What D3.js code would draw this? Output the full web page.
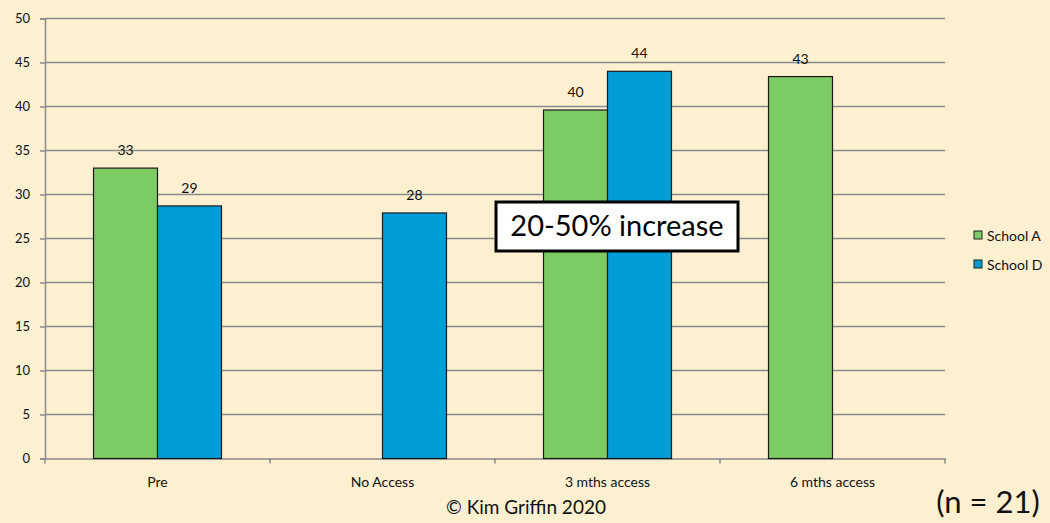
<!DOCTYPE html>
<html>
<head>
<meta charset="utf-8">
<script src="https://cdn.jsdelivr.net/npm/d3@7"></script>
<style>
  html, body { margin: 0; padding: 0; background: #fcf0d1; }
  svg { display: block; font-family: Lato, "Open Sans", sans-serif; }
</style>
</head>
<body>
<svg id="chart" width="1050" height="523"></svg>
<script>
// Survey scores by school and access period
const categories = ["Pre", "No Access", "3 mths access", "6 mths access"];
const seriesNames = ["School A", "School D"];
const schoolA = [33.0, null, 39.6, 43.4];
const schoolD = [28.7, 27.9, 44.0, null];
const yTicks = [0, 5, 10, 15, 20, 25, 30, 35, 40, 45, 50];
const colors = ["#7dcb63", "#009dd8"];

const svg = d3.select("#chart");
const margin = { left: 45, right: 105, top: 18.5, bottom: 64.5 };
const W = 1050, H = 523;
const plotW = W - margin.left - margin.right;
const plotH = H - margin.top - margin.bottom;

const x = d3.scaleBand().domain(categories).range([margin.left, margin.left + plotW])
  .paddingInner(0).paddingOuter(0);
const x1 = d3.scaleBand().domain(seriesNames).range([0, x.bandwidth()])
  .paddingInner(0).paddingOuter(0.758);
const y = d3.scaleLinear().domain([0, 50]).range([margin.top + plotH, margin.top]);

// gridlines
svg.append("g").selectAll("line").data(yTicks.filter(d => d > 0)).join("line")
  .attr("x1", margin.left).attr("x2", margin.left + plotW)
  .attr("y1", d => y(d)).attr("y2", d => y(d))
  .attr("stroke", "#8a8a8a").attr("stroke-width", 1.5);

// y axis
const yAxis = svg.append("g").attr("transform", `translate(${margin.left},0)`)
  .call(d3.axisLeft(y).tickValues(yTicks).tickSize(5).tickPadding(10));
yAxis.select(".domain").attr("stroke", "#8a8a8a").attr("stroke-width", 1.5);
yAxis.selectAll(".tick line").attr("stroke", "#8a8a8a").attr("stroke-width", 1.5);
yAxis.selectAll("text").attr("font-size", 13).attr("fill", "#111")
  .attr("font-family", "Lato, sans-serif");

// x axis
const xAxis = svg.append("g").attr("transform", `translate(0,${margin.top + plotH})`)
  .call(d3.axisBottom(x).tickSize(0).tickPadding(19));
xAxis.select(".domain").attr("stroke", "#8a8a8a").attr("stroke-width", 1.5);
xAxis.selectAll("text").attr("font-size", 14).attr("fill", "#111")
  .attr("font-family", "Lato, sans-serif");
// category boundary ticks
const bounds = d3.range(categories.length + 1).map(i => margin.left + i * x.bandwidth());
svg.append("g").selectAll("line").data(bounds).join("line")
  .attr("x1", d => d).attr("x2", d => d)
  .attr("y1", margin.top + plotH).attr("y2", margin.top + plotH + 5)
  .attr("stroke", "#8a8a8a").attr("stroke-width", 1.5);

// bars
const rows = [];
categories.forEach((c, i) => {
  [schoolA, schoolD].forEach((s, j) => {
    if (s[i] != null) rows.push({ cat: c, series: seriesNames[j], value: s[i], color: colors[j] });
  });
});

svg.append("g").selectAll("rect").data(rows).join("rect")
  .attr("x", d => x(d.cat) + x1(d.series))
  .attr("width", x1.bandwidth())
  .attr("y", d => y(d.value))
  .attr("height", d => y(0) - y(d.value))
  .attr("fill", d => d.color)
  .attr("stroke", "#1a1a1a").attr("stroke-width", 1.2);

// value labels
const fmt = d3.format(".0f");
svg.append("g").selectAll("text").data(rows).join("text")
  .attr("x", d => x(d.cat) + x1(d.series) + x1.bandwidth() / 2)
  .attr("y", d => y(d.value) - 13)
  .attr("text-anchor", "middle")
  .attr("font-size", 14).attr("fill", "#111")
  .text(d => fmt(d.value));

// callout box
const box = svg.append("g");
box.append("rect").attr("x", 496).attr("y", 202).attr("width", 242).attr("height", 49)
  .attr("fill", "#fff").attr("stroke", "#000").attr("stroke-width", 3);
box.append("text").attr("x", 617).attr("y", 236).attr("text-anchor", "middle")
  .attr("font-size", 29).attr("fill", "#000").text("20-50% increase");

// legend
const legend = svg.append("g").selectAll("g").data(seriesNames).join("g")
  .attr("transform", (d, i) => `translate(974,${231 + i * 29})`);
legend.append("rect").attr("width", 8).attr("height", 8)
  .attr("fill", (d, i) => colors[i]).attr("stroke", "#222").attr("stroke-width", 1);
legend.append("text").attr("x", 13).attr("y", 9.5).attr("font-size", 14)
  .attr("fill", "#111").text(d => d);

// credits
svg.append("text").attr("x", 526).attr("y", 514).attr("text-anchor", "middle")
  .attr("font-size", 19).attr("fill", "#111").text("\u00a9 Kim Griffin 2020");
svg.append("text").attr("x", 988).attr("y", 513).attr("text-anchor", "middle")
  .attr("font-size", 31).attr("fill", "#111").text("(n = 21)");
</script>
</body>
</html>
